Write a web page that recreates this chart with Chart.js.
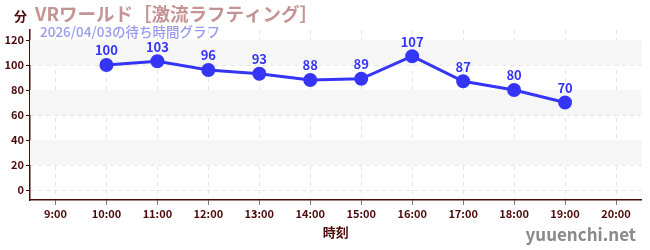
<!DOCTYPE html>
<html>
<head>
<meta charset="utf-8">
<script src="https://cdn.jsdelivr.net/npm/chart.js@4"></script>
<style>
  html, body { margin: 0; padding: 0; background: #fff; }
  #wrap { width: 650px; height: 250px; position: relative; }
</style>
</head>
<body>
<div id="wrap"><canvas id="wait-chart" width="650" height="250"></canvas></div>
<script>
// 時刻と待ち時間（分）
const horas = ["9:00", "10:00", "11:00", "12:00", "13:00", "14:00", "15:00", "16:00", "17:00", "18:00", "19:00", "20:00"];
const esperas = [null, 100, 103, 96, 93, 88, 89, 107, 87, 80, 70, null];
const yTicks = [0, 10, 20, 30, 40, 50, 60, 70, 80, 90, 100, 110, 120];

const tituloParque = "VRワールド［激流ラフティング］";
const subtitulo = "2026/04/03の待ち時間グラフ";
const unidad = "分";
const ejeX = "時刻";
const marca = "yuuenchi.net";

const FONT = "'Noto Sans CJK JP', 'Noto Sans', sans-serif";
const DARK = "#4d0a0a";
const BLUE = "#3535f8";

// franjas grises alternas
const bandas = {
    id: "bandas",
    beforeDatasetsDraw(chart) {
        const { ctx, chartArea, scales } = chart;
        const y = scales.y;
        ctx.save();
        ctx.fillStyle = "#f6f6f6";
        [[100, 120], [60, 80], [20, 40]].forEach(([a, b]) => {
            const top = y.getPixelForValue(b);
            const bot = y.getPixelForValue(a);
            ctx.fillRect(chartArea.left, top, chartArea.right - chartArea.left, bot - top);
        });
        ctx.restore();
    }
};

// textos y etiquetas
const textos = {
    id: "textos",
    afterDatasetsDraw(chart) {
        const { ctx } = chart;
        ctx.save();
        // etiquetas de valores
        const meta = chart.getDatasetMeta(0);
        ctx.font = "bold 13px " + FONT;
        ctx.fillStyle = BLUE;
        ctx.textAlign = "center";
        ctx.textBaseline = "bottom";
        meta.data.forEach((pt, i) => {
            if (esperas[i] == null) return;
            ctx.fillText(String(esperas[i]), pt.x, pt.y - 8);
        });
        ctx.restore();
    },
    afterDraw(chart) {
        const { ctx } = chart;
        ctx.save();
        ctx.textBaseline = "alphabetic";
        ctx.textAlign = "left";
        ctx.font = "bold 13px " + FONT;
        ctx.fillStyle = DARK;
        ctx.fillText(unidad, 14, 21);
        ctx.font = "bold 18.5px " + FONT;
        ctx.fillStyle = "#c49393";
        ctx.fillText(tituloParque, 35, 21);
        ctx.font = "500 13.5px " + FONT;
        ctx.fillStyle = "#9a9af0";
        ctx.fillText(subtitulo, 40, 37);
        ctx.font = "bold 17px " + FONT;
        ctx.fillStyle = "#8a8a8a";
        ctx.textAlign = "right";
        ctx.fillText(marca, 636, 241);
        ctx.restore();
    }
};

new Chart(document.getElementById("wait-chart"), {
    type: "line",
    data: {
        labels: horas,
        datasets: [{
            data: esperas,
            borderColor: BLUE,
            backgroundColor: BLUE,
            borderWidth: 3,
            pointRadius: 5.5,
            pointHoverRadius: 5.5,
            tension: 0,
            spanGaps: false
        }]
    },
    options: {
        responsive: false,
        animation: false,
        layout: { padding: { top: 30, right: 8, left: 0, bottom: 0 } },
        plugins: { legend: { display: false }, tooltip: { enabled: false } },
        scales: {
            x: {
                offset: true,
                border: { color: DARK, width: 1.5, dash: [4, 4] },
                grid: {
                    offset: false,
                    color: "#e4e4e4",
                    tickColor: "#777",
                    tickLength: 5,
                    tickBorderDash: []
                },
                ticks: { color: DARK, font: { family: FONT, size: 11, weight: "bold" }, padding: 2 },
                title: { display: true, text: ejeX, color: DARK, font: { family: FONT, size: 13, weight: "bold" }, padding: { top: 4, bottom: 10 } },
                afterFit(scale) { scale.height = 50; }
            },
            y: {
                min: -8,
                max: 128,
                afterBuildTicks(scale) { scale.ticks = yTicks.map(v => ({ value: v })); },
                border: { color: DARK, width: 1.5, dash: [4, 4] },
                grid: {
                    color: ctx => (ctx.tick && ctx.tick.value % 20 === 0) ? "#e4e4e4" : "rgba(0,0,0,0)",
                    tickColor: ctx => (ctx.tick && ctx.tick.value % 20 === 0) ? DARK : "#f06060",
                    tickLength: 4,
                    tickBorderDash: []
                },
                ticks: {
                    color: DARK,
                    font: { family: FONT, size: 11, weight: "bold" },
                    padding: 2,
                    callback: v => (v % 20 === 0 ? v : "")
                },
                afterFit(scale) { scale.width = 30; }
            }
        }
    },
    plugins: [bandas, textos]
});
</script>
</body>
</html>
